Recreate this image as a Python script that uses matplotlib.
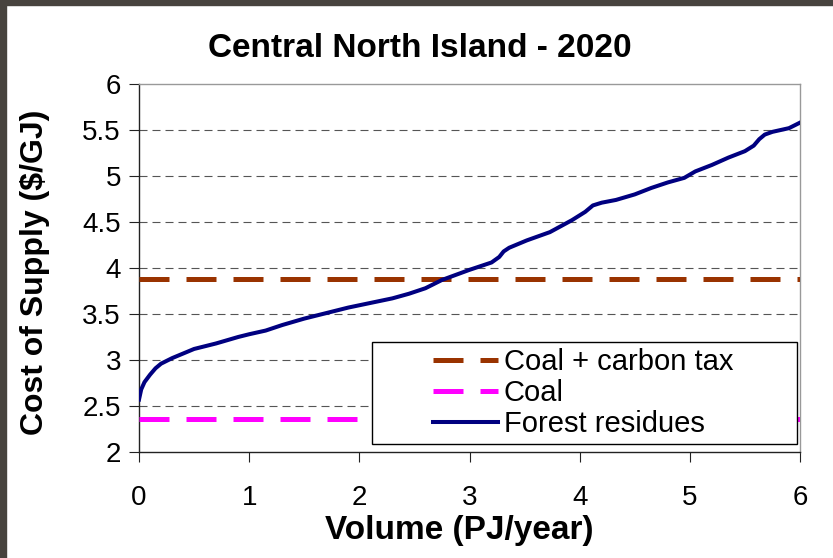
"""Cost of supply curve, Central North Island 2020."""

import matplotlib

matplotlib.use("Agg")

import matplotlib.pyplot as plt
from matplotlib.patches import Rectangle

plt.rcParams["font.family"] = ["Liberation Sans", "DejaVu Sans"]

# forest residue supply curve (PJ/year, $/GJ)
volume = [0, 0.02, 0.05, 0.1, 0.15, 0.2, 0.3, 0.4, 0.5, 0.7, 0.9, 1.0, 1.15,
          1.3, 1.5, 1.7, 1.9, 2.1, 2.3, 2.45, 2.6, 2.75, 3.0, 3.2, 3.27, 3.31,
          3.36, 3.52, 3.73, 3.93, 4.05, 4.12, 4.2, 4.33, 4.5, 4.65, 4.8, 4.95,
          5.05, 5.2, 5.35, 5.5, 5.58, 5.63, 5.68, 5.75, 5.9, 6.0]
forest_cost = [2.57, 2.68, 2.76, 2.84, 2.91, 2.96, 3.02, 3.07, 3.12, 3.18,
               3.25, 3.28, 3.32, 3.38, 3.45, 3.51, 3.57, 3.62, 3.67, 3.72,
               3.78, 3.87, 3.98, 4.06, 4.12, 4.18, 4.22, 4.30, 4.39, 4.52,
               4.61, 4.68, 4.71, 4.74, 4.80, 4.87, 4.93, 4.98, 5.05, 5.12,
               5.20, 5.27, 5.33, 5.40, 5.45, 5.48, 5.52, 5.58]

coal_x = [0, 6]
coal_carbon_tax = [3.88, 3.88]
coal = [2.36, 2.36]

x_ticks = [0, 1, 2, 3, 4, 5, 6]
y_ticks = [2, 2.5, 3, 3.5, 4, 4.5, 5, 5.5, 6]
y_tick_labels = ["2", "2.5", "3", "3.5", "4", "4.5", "5", "5.5", "6"]

fig = plt.figure(figsize=(8.33, 5.58), dpi=100)
ax = fig.add_axes([139 / 833, 1 - 452 / 558, 661 / 833, 368 / 558])

# dark frame edges of the screenshot
fig.patches.append(Rectangle((0, 1 - 5 / 558), 1, 5 / 558, transform=fig.transFigure,
                             color="#47433e", zorder=0))
fig.patches.append(Rectangle((0, 0), 6 / 833, 1, transform=fig.transFigure,
                             color="#47433e", zorder=0))

for yv in y_ticks[1:-1]:
    ax.axhline(yv, color="#555555", lw=0.8, ls=(0, (7.2, 4.5)), zorder=1)

ax.plot(coal_x, coal_carbon_tax, color="#993300", lw=3.6, ls=(0, (6, 3.4)),
        label="Coal + carbon tax", zorder=3)
ax.plot(coal_x, coal, color="#ff00ff", lw=3.6, ls=(0, (6, 3.4)),
        label="Coal", zorder=3)
ax.plot(volume, forest_cost, color="#000080", lw=2.9, label="Forest residues",
        zorder=4)

ax.set_xlim(0, 6)
ax.set_ylim(2, 6)
ax.set_xticks(x_ticks)
ax.set_yticks(y_ticks)
ax.set_yticklabels(y_tick_labels)
ax.tick_params(axis="both", direction="out", length=7, width=0.8,
               color="#222222", labelsize=20)
ax.tick_params(axis="x", pad=17)
ax.tick_params(axis="y", pad=6)

for side in ("left", "bottom"):
    ax.spines[side].set_color("#222222")
    ax.spines[side].set_linewidth(1.0)
for side in ("top", "right"):
    ax.spines[side].set_color("#999999")
    ax.spines[side].set_linewidth(1.0)

fig.text(420 / 833, 1 - 57 / 558, "Central North Island - 2020", fontsize=24,
         fontweight="bold", ha="center", va="baseline")
ax.set_xlabel("Volume (PJ/year)", fontsize=24, fontweight="bold")
ax.xaxis.set_label_coords(0.484, -0.17)
ax.set_ylabel("Cost of Supply ($/GJ)", fontsize=23, fontweight="bold")
ax.yaxis.set_label_coords(-0.1345, 0.489)

# legend: plain frame box, entries placed inside it
ax.add_patch(Rectangle((233 / 661, 8 / 368), 425 / 661, 102 / 368,
                       transform=ax.transAxes, facecolor="white",
                       edgecolor="black", lw=1.0, zorder=5))
leg = ax.legend(loc="upper left", bbox_to_anchor=(433 / 833, 1 - 348 / 558),
                bbox_transform=fig.transFigure, frameon=False, fontsize=21,
                handlelength=2.23, handletextpad=0.2, labelspacing=0.1,
                borderpad=0, borderaxespad=0)
leg.set_zorder(6)

fig.savefig("out.png", dpi=100)
plt.close(fig)
